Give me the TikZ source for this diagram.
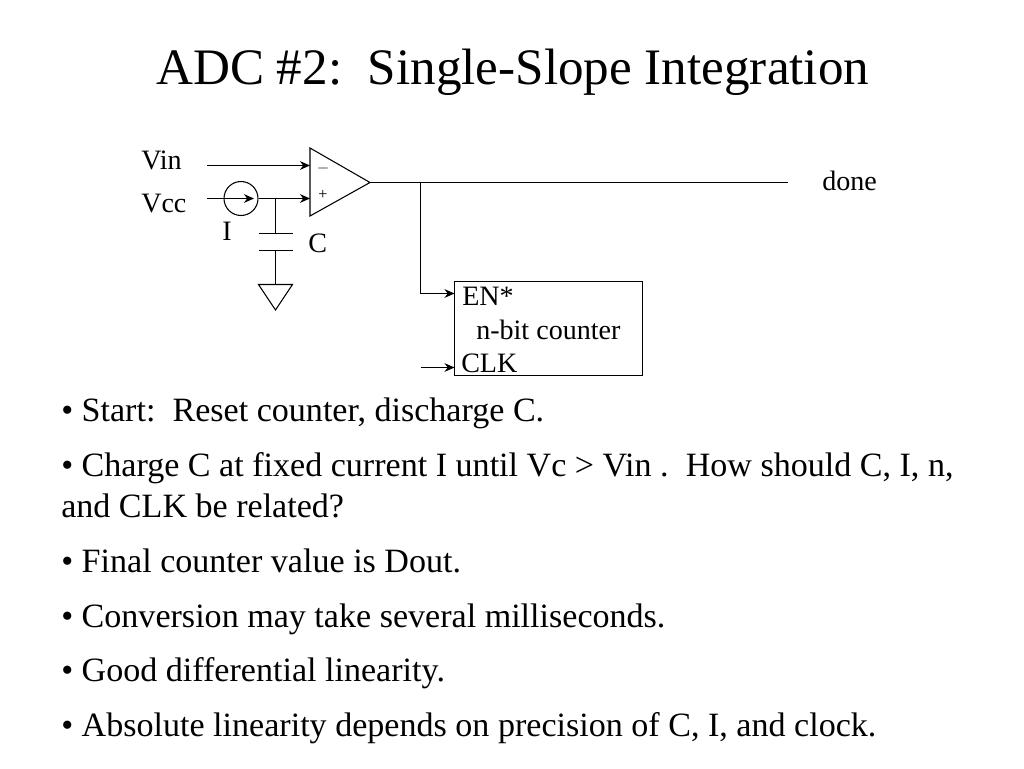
\documentclass[tikz,border=0pt]{standalone}
\usepackage{fontspec}
\setmainfont{Liberation Serif}
\usetikzlibrary{arrows.meta}
\tikzset{
  txt/.style={anchor=base west,inner sep=0pt,font=\fontsize{21.05}{24}\selectfont},
  bul/.style={anchor=base west,inner sep=0pt,font=\fontsize{25.55}{30}\selectfont},
  sign/.style={inner sep=0pt,font=\fontsize{12}{14}\selectfont},
  wire/.style={line width=0.8pt},
  arr/.style={wire,-{Stealth[length=7.5pt,width=6.5pt]}}
}
\begin{document}
\begin{tikzpicture}[x=0.75pt,y=-0.75pt]
\useasboundingbox (0,0) rectangle (1024,768);

\node[anchor=base west,inner sep=0pt,font=\fontsize{38.35}{44}\selectfont] (title) at (156,84) {ADC \#2:\ \ Single-Slope Integration};

% comparator
\coordinate (ampa) at (310,148);
\coordinate (ampb) at (310,216);
\coordinate (ampout) at (370,182.5);
\coordinate (ampm) at (310,165.5);
\coordinate (ampp) at (310,198.5);
\draw[wire] (ampa) -- (ampb) -- (ampout) -- cycle;
\node[sign] (minus) at (323,168) {$-$};
\node[sign] (plus) at (323,195) {+};

% inputs
\coordinate (vinl) at (207,165.5);
\coordinate (vccl) at (207,198.5);
\node[txt] (vin) at (141,169) {Vin};
\node[txt] (vcc) at (141,212) {Vcc};
\draw[arr] (vinl) -- (ampm);
\node[circle,draw,wire,minimum size=25.5pt,inner sep=0pt] (src) at (241,198.5) {};
\coordinate (srcr) at (254,198.5);
\coordinate (tee) at (275.5,198.5);
\draw[wire] (vccl) -- (src);
\draw[arr] (src.west) -- (srcr);
\draw[arr] (src) -- (ampp);
\node[txt] (i) at (222,240) {I};

% capacitor and ground
\coordinate (capa) at (275.5,233.5);
\coordinate (capb) at (275.5,250.5);
\coordinate (gnd) at (275.5,284.5);
\coordinate (gndtip) at (275.5,310);
\draw[wire] (tee) -- (capa);
\draw[wire] (capb) -- (gnd);
\draw[wire] ([xshift=-12.75pt]capa) -- ([xshift=12.75pt]capa);
\draw[wire] ([xshift=-12.75pt]capb) -- ([xshift=12.75pt]capb);
\draw[wire] ([xshift=-12.75pt]gnd) -- ([xshift=12.75pt]gnd) -- (gndtip) -- cycle;
\node[txt] (c) at (308,252.5) {C};

% output
\coordinate (doneend) at (788,182.5);
\coordinate (branch) at (420.5,182.5);
\draw[wire] (ampout) -- (doneend);
\node[txt] (done) at (822,190.5) {done};

% counter
\node[draw,wire,minimum width=141pt,minimum height=70pt,inner sep=0pt] (cnt) at (548.5,328.5) {};
\coordinate (enin) at (454.5,293.5);
\coordinate (clkin) at (454.5,367.5);
\coordinate (clkl) at (421,367.5);
\draw[arr] (branch) |- (enin);
\draw[arr] (clkl) -- (clkin);
\node[txt] (en) at (462,305.5) {EN*};
\node[txt] (nbit) at (476,339) {n-bit counter};
\node[txt] (clk) at (461,372) {CLK};

% bullets
\node[bul] (b1) at (61,421) {• Start:\ \ Reset counter, discharge C.};
\node[bul] (b2) at (61,476) {• Charge C at fixed current I until Vc > Vin .\ \ How should C, I, n,};
\node[bul] (b2b) at (61,517) {and CLK be related?};
\node[bul] (b3) at (61,572) {• Final counter value is Dout.};
\node[bul] (b4) at (61,627) {• Conversion may take several milliseconds.};
\node[bul] (b5) at (61,681) {• Good differential linearity.};
\node[bul] (b6) at (61,736) {• Absolute linearity depends on precision of C, I, and clock.};
\end{tikzpicture}
\end{document}
